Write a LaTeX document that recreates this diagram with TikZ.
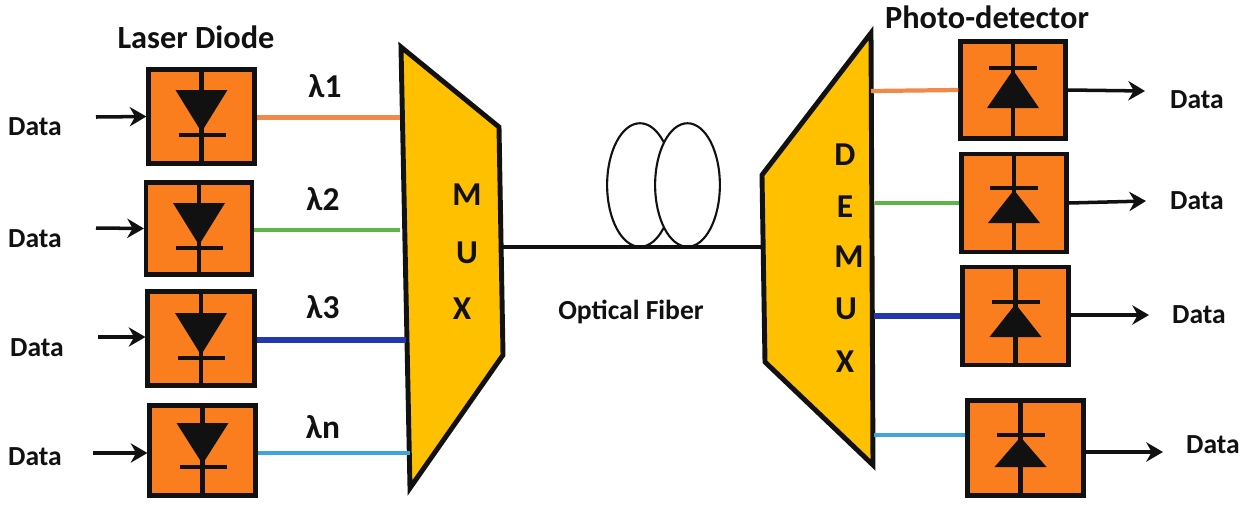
\documentclass[tikz,border=0pt]{standalone}
\usepackage{fontspec}
\setmainfont{Carlito}
\usetikzlibrary{arrows.meta,shapes.geometric,calc}
\definecolor{boxorange}{HTML}{FB7E1E}
\definecolor{muxyellow}{HTML}{FFC000}
\definecolor{wireorange}{HTML}{F0894A}
\definecolor{wiregreen}{HTML}{5DB54A}
\definecolor{wireblue}{HTML}{2438AE}
\definecolor{wirecyan}{HTML}{3FA4DC}
\definecolor{ink}{HTML}{111111}
\tikzset{
  x=0.02cm,y=-0.02cm,
  diodebox/.style={draw=ink,fill=boxorange,line width=2.6pt,inner sep=0pt,outer sep=1.3pt,anchor=center},
  muxshape/.style={draw=ink,fill=muxyellow,line width=2.8pt,line join=miter},
  coil/.style={draw=ink,line width=1.2pt,ellipse,inner sep=0pt,outer sep=0pt},
  fiber/.style={draw=ink,line width=1.9pt},
  stem/.style={draw=ink,line width=2.3pt},
  wire/.style={line width=#1},
  dataarrow/.style={draw=ink,line width=2pt,-{Stealth[length=9.5pt,width=11pt]}},
  lbl/.style={font=\bfseries\fontsize{15.7}{18}\selectfont,text=ink,inner sep=0pt},
  lam/.style={font=\bfseries\fontsize{19}{21}\selectfont,text=ink,inner sep=0pt},
  title/.style={font=\bfseries\fontsize{18.4}{20}\selectfont,text=ink,inner sep=0pt},
  letter/.style={font=\bfseries\fontsize{19}{21}\selectfont,text=ink,inner sep=0pt},
}
\newcommand{\dbox}[5]{\node[diodebox,minimum width=#4*0.567pt,minimum height=#5*0.567pt] (#1) at (#2,#3) {};}
% name, triangle-top offset, bar offset
\newcommand{\laser}[3]{%
  \draw[stem] (#1.north) -- (#1.south);
  \begin{scope}[shift={(#1.center)}]
    \fill[ink] (-26,#2) -- (26,#2) -- (0,#3-3) -- cycle;
    \draw[stem] (-23,#3) -- (24,#3);
  \end{scope}}
% name, x offset, bar offset, base offset
\newcommand{\photo}[4]{%
  \draw[stem] ($(#1.north)+(#2,0)$) -- ($(#1.south)+(#2,0)$);
  \begin{scope}[shift={(#1.center)},xshift=#2*0.567pt]
    \fill[ink] (-26,#4) -- (26,#4) -- (0,#3+2) -- cycle;
    \draw[stem] (-24,#3) -- (24,#3);
  \end{scope}}
\begin{document}
\begin{tikzpicture}
\useasboundingbox (0,0) rectangle (1248,508);
% mux / demux
\draw[muxshape] (401,47) -- (499,127) -- (503,355) -- (410,488) -- cycle;
\draw[muxshape] (871,33) -- (873,465) -- (765,362) -- (762,175) -- cycle;
\coordinate (mo) at (503,247);
\coordinate (di) at (762,247);
\coordinate (m1) at (400,117.5);
\coordinate (m2) at (400,230);
\coordinate (m3) at (406,340);
\coordinate (m4) at (410,453);
\coordinate (d1) at (871,91);
\coordinate (d2) at (875,203);
\coordinate (d3) at (874,316);
\coordinate (d4) at (874,435);
% coils and fiber
\node[coil,minimum width=66*0.567pt,minimum height=124*0.567pt] (c1) at (640,185) {};
\node[coil,fill=white,minimum width=65*0.567pt,minimum height=124*0.567pt] (c2) at (687.5,185) {};
\draw[fiber] (mo) -- (di);
% boxes
\dbox{l1}{201.5}{116.5}{106}{94}
\dbox{l2}{199}{228.5}{106}{92}
\dbox{l3}{201}{338.5}{107}{94}
\dbox{l4}{202.5}{450.5}{106}{90}
\dbox{r1}{1013}{90}{105}{97}
\dbox{r2}{1014}{203}{105}{98}
\dbox{r3}{1015.5}{316}{106}{98}
\dbox{r4}{1025.5}{448}{116}{95}
\laser{l1}{-26.5}{18.5}
\laser{l2}{-25.5}{19.5}
\laser{l3}{-25.5}{19.5}
\laser{l4}{-27.5}{16.5}
\photo{r1}{0}{-22}{18}
\photo{r2}{0}{-15}{20}
\photo{r3}{0}{-14}{21}
\photo{r4}{-5}{-13}{19}
% wires
\draw[wire=2.4pt,wireorange] (m1 -| l1.east) -- (m1);
\draw[wire=2.2pt,wiregreen] (m2 -| l2.east) -- (m2);
\draw[wire=3.8pt,wireblue] (m3 -| l3.east) -- (m3);
\draw[wire=2.4pt,wirecyan] (m4 -| l4.east) -- (m4);
\draw[wire=2.4pt,wireorange] (d1) -- (r1.west);
\draw[wire=2.2pt,wiregreen] (d2) -- (d2 -| r2.west);
\draw[wire=3.8pt,wireblue] (d3) -- (r3.west);
\draw[wire=2.4pt,wirecyan] (d4) -- (d4 -| r4.west);
% data labels
\node[lbl] (dl1) at (35,127) {Data};
\node[lbl] (dl2) at (35,239) {Data};
\node[lbl] (dl3) at (37,348) {Data};
\node[lbl] (dl4) at (35,457) {Data};
\node[lbl] (dr1) at (1197,100) {Data};
\node[lbl] (dr2) at (1197,201) {Data};
\node[lbl] (dr3) at (1199,315) {Data};
\node[lbl] (dr4) at (1213,445) {Data};
% arrows
\coordinate (a1) at (96,117);
\coordinate (a2) at (96,228);
\coordinate (a3) at (98,337);
\coordinate (a4) at (93,453);
\coordinate (b1) at (1145,91);
\coordinate (b2) at (1146,201);
\coordinate (b3) at (1149,315);
\coordinate (b4) at (1163,452);
\draw[dataarrow] (a1) -- (l1.west);
\draw[dataarrow] (a2) -- (l2.west);
\draw[dataarrow] (a3) -- (a3 -| l3.west);
\draw[dataarrow] (a4) -- (a4 -| l4.west);
\draw[dataarrow] (r1.east) -- (b1);
\draw[dataarrow] (r2.east) -- (b2);
\draw[dataarrow] (b3 -| r3.east) -- (b3);
\draw[dataarrow] (b4 -| r4.east) -- (b4);
% titles and labels
\node[title] (t1) at (196,37) {Laser Diode};
\node[title] (t2) at (987,17) {Photo-detector};
\node[lam] (w1) at (325,86) {λ1};
\node[lam] (w2) at (323,199) {λ2};
\node[lam] (w3) at (323,307) {λ3};
\node[lam] (w4) at (323,427) {λn};
\node[letter] (mu1) at (467,195) {M};
\node[letter] (mu2) at (467,253) {U};
\node[letter] (mu3) at (462,309) {X};
\node[letter] (de1) at (845,155) {D};
\node[letter] (de2) at (845,207) {E};
\node[letter] (de3) at (849,257) {M};
\node[letter] (de4) at (846,309) {U};
\node[letter] (de5) at (845,362) {X};
\node[lbl] (of) at (631,312) {Optical Fiber};
\end{tikzpicture}
\end{document}
